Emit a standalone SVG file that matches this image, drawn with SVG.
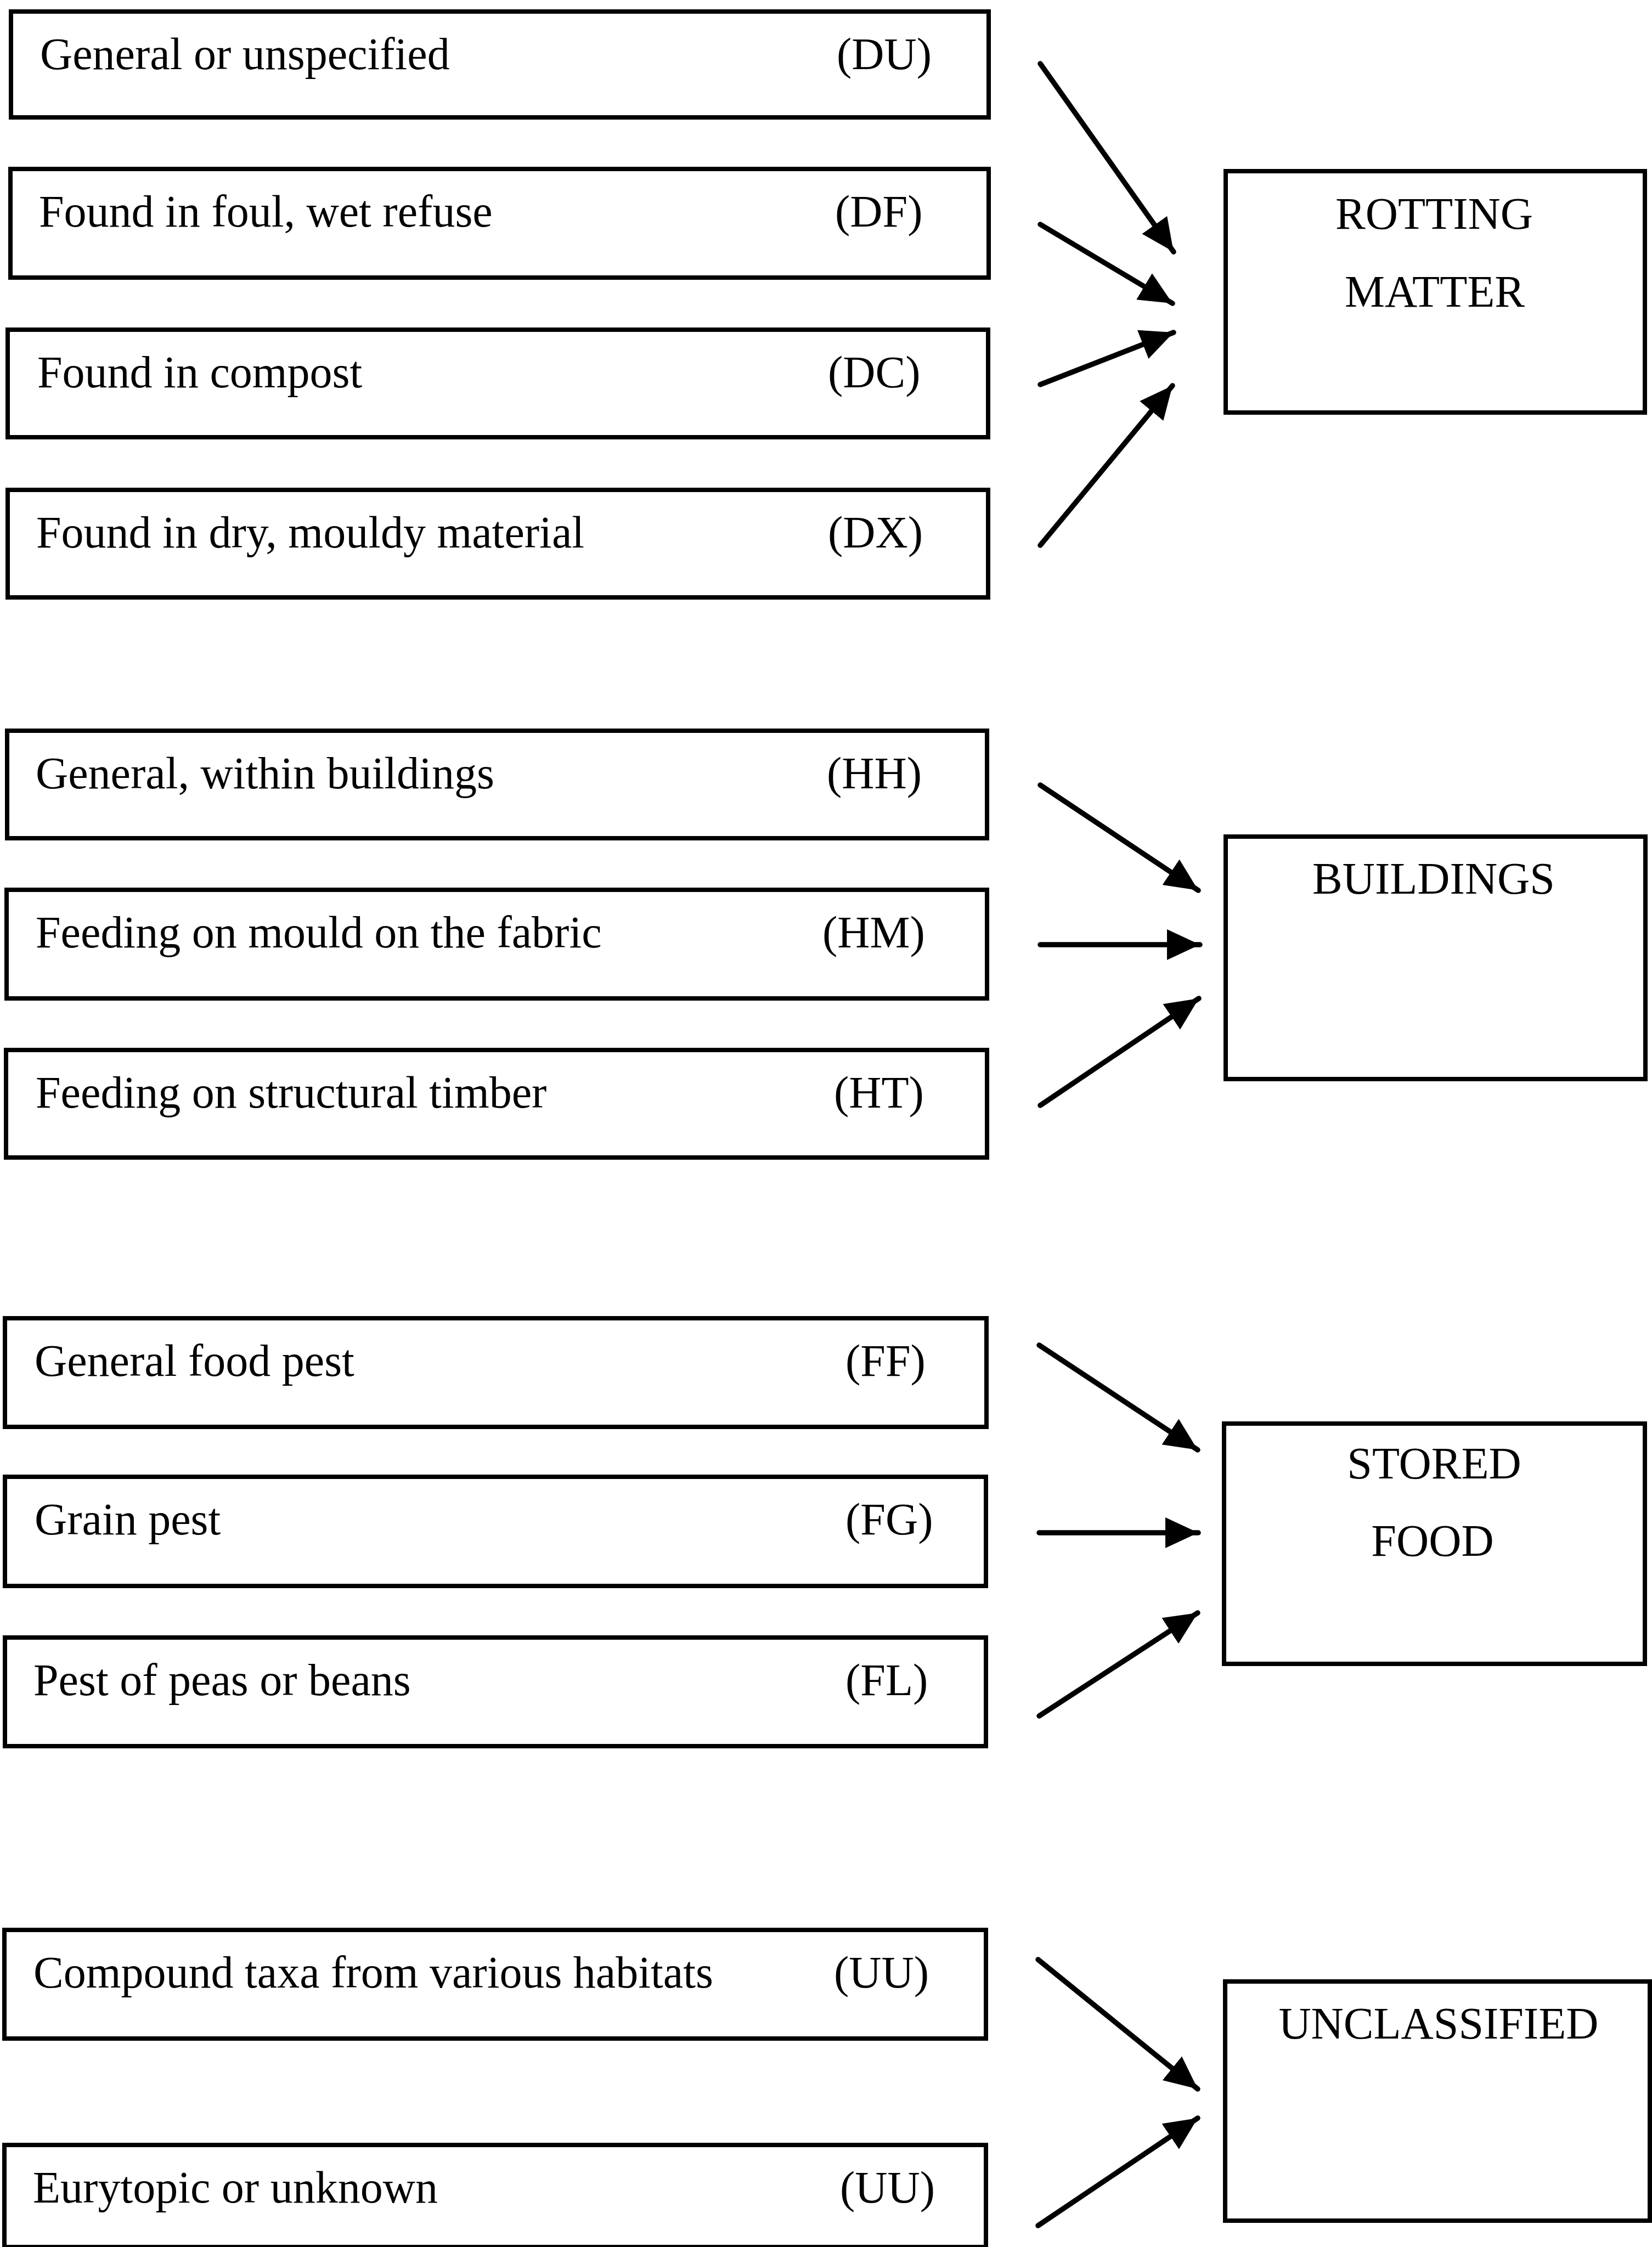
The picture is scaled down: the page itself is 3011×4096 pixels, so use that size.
<svg xmlns="http://www.w3.org/2000/svg" width="3011" height="4096" viewBox="0 0 3011 4096">
<style>
  .box { fill: #ffffff; stroke: #000000; stroke-width: 8; }
  .lbl { font-family: "Liberation Serif", "Times New Roman", serif; font-size: 82px; fill: #000000; }
  .ctr { text-anchor: middle; }
  .conn line { stroke: #000000; stroke-width: 9.5; stroke-linecap: round; }
</style>
<defs>
  <marker id="ah" markerUnits="userSpaceOnUse" markerWidth="62" markerHeight="58" viewBox="0 0 62 58" refX="60" refY="29" orient="auto">
    <path d="M0,1 L60,29 L0,57 Z" fill="#000000"/>
  </marker>
</defs>
<rect width="3011" height="4096" fill="#ffffff"/>

<g id="node-DU"><rect class="box" x="20" y="21" width="1782" height="193"/><text class="lbl" x="73" y="126">General or unspecified</text><text class="lbl" x="1525" y="126">(DU)</text></g>
<g id="node-DF"><rect class="box" x="19" y="308" width="1783" height="198"/><text class="lbl" x="71" y="413">Found in foul, wet refuse</text><text class="lbl" x="1522" y="413">(DF)</text></g>
<g id="node-DC"><rect class="box" x="14" y="601" width="1787" height="196"/><text class="lbl" x="68" y="706">Found in compost</text><text class="lbl" x="1509" y="706">(DC)</text></g>
<g id="node-DX"><rect class="box" x="14" y="893" width="1787" height="196"/><text class="lbl" x="66" y="998">Found in dry, mouldy material</text><text class="lbl" x="1509" y="998">(DX)</text></g>

<g id="node-HH"><rect class="box" x="13" y="1332" width="1786" height="196"/><text class="lbl" x="65" y="1437">General, within buildings</text><text class="lbl" x="1507" y="1437">(HH)</text></g>
<g id="node-HM"><rect class="box" x="12" y="1622" width="1787" height="198"/><text class="lbl" x="65" y="1727">Feeding on mould on the fabric</text><text class="lbl" x="1499" y="1727">(HM)</text></g>
<g id="node-HT"><rect class="box" x="11" y="1914" width="1788" height="196"/><text class="lbl" x="65" y="2019">Feeding on structural timber</text><text class="lbl" x="1520" y="2019">(HT)</text></g>

<g id="node-FF"><rect class="box" x="9" y="2403" width="1789" height="198"/><text class="lbl" x="63" y="2508">General food pest</text><text class="lbl" x="1541" y="2508">(FF)</text></g>
<g id="node-FG"><rect class="box" x="9" y="2692" width="1788" height="199"/><text class="lbl" x="63" y="2797">Grain pest</text><text class="lbl" x="1541" y="2797">(FG)</text></g>
<g id="node-FL"><rect class="box" x="9" y="2985" width="1788" height="198"/><text class="lbl" x="61" y="3090">Pest of peas or beans</text><text class="lbl" x="1541" y="3090">(FL)</text></g>

<g id="node-UU1"><rect class="box" x="8" y="3518" width="1789" height="198"/><text class="lbl" x="61" y="3623">Compound taxa from various habitats</text><text class="lbl" x="1520" y="3623">(UU)</text></g>
<g id="node-UU2"><rect class="box" x="8" y="3910" width="1789" height="186"/><text class="lbl" x="60" y="4015">Eurytopic or unknown</text><text class="lbl" x="1531" y="4015">(UU)</text></g>

<g id="node-rotting"><rect class="box" x="2234" y="312" width="764" height="440"/><text class="lbl ctr" x="2614" y="417">ROTTING</text><text class="lbl ctr" x="2615" y="559">MATTER</text></g>
<g id="node-buildings"><rect class="box" x="2234" y="1525" width="765" height="442"/><text class="lbl ctr" x="2613" y="1629">BUILDINGS</text></g>
<g id="node-stored"><rect class="box" x="2231" y="2595" width="767" height="438"/><text class="lbl ctr" x="2614" y="2695">STORED</text><text class="lbl ctr" x="2611" y="2836">FOOD</text></g>
<g id="node-unclassified"><rect class="box" x="2233" y="3612" width="774" height="436"/><text class="lbl ctr" x="2622" y="3716">UNCLASSIFIED</text></g>

<g id="connectors" class="conn">
  <line x1="1896" y1="116" x2="2139" y2="459" marker-end="url(#ah)"/>
  <line x1="1896" y1="409" x2="2137" y2="553" marker-end="url(#ah)"/>
  <line x1="1896" y1="701" x2="2139" y2="606" marker-end="url(#ah)"/>
  <line x1="1896" y1="994" x2="2137" y2="703" marker-end="url(#ah)"/>

  <line x1="1896" y1="1431" x2="2184" y2="1623" marker-end="url(#ah)"/>
  <line x1="1896" y1="1722" x2="2187" y2="1722" marker-end="url(#ah)"/>
  <line x1="1896" y1="2015" x2="2185" y2="1820" marker-end="url(#ah)"/>

  <line x1="1894" y1="2452" x2="2183" y2="2643" marker-end="url(#ah)"/>
  <line x1="1894" y1="2794" x2="2184" y2="2794" marker-end="url(#ah)"/>
  <line x1="1894" y1="3128" x2="2183" y2="2940" marker-end="url(#ah)"/>

  <line x1="1892" y1="3572" x2="2183" y2="3808" marker-end="url(#ah)"/>
  <line x1="1892" y1="4057" x2="2183" y2="3861" marker-end="url(#ah)"/>
</g>
</svg>
